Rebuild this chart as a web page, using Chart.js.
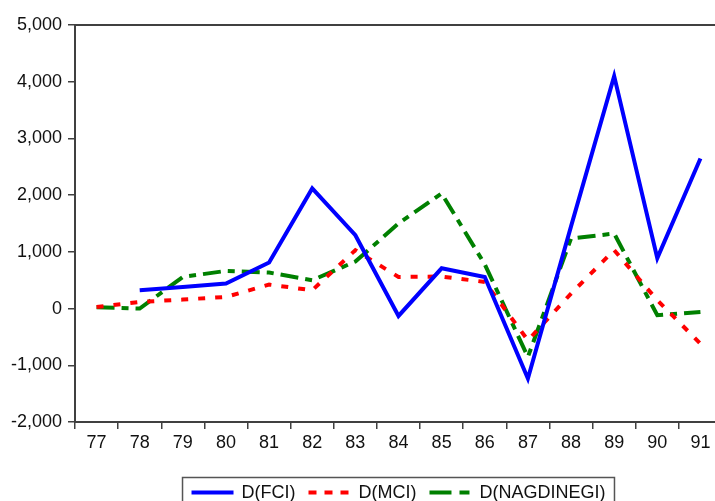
<!DOCTYPE html>
<html>
<head>
<meta charset="utf-8">
<script src="https://cdn.jsdelivr.net/npm/chart.js@4.4.1/dist/chart.umd.min.js"></script>
<style>
html, body { margin: 0; padding: 0; background: #fff; overflow: hidden; }
#wrap { width: 730px; height: 501px; }
</style>
</head>
<body>
<div id="wrap"><canvas id="lineChart"></canvas></div>
<script>
var years = ["77", "78", "79", "80", "81", "82", "83", "84", "85", "86", "87", "88", "89", "90", "91"];
var dFCI = [null, 323, 380, 441, 812, 2118, 1293, -130, 710, 558, -1235, 1450, 4099, 890, 2647];
var dMCI = [28, 117, 159, 205, 423, 323, 1030, 558, 565, 470, -560, 265, 1030, 147, -618];
var dNAGDINEGI = [25, 0, 558, 664, 635, 500, 830, 1500, 2029, 780, -853, 1235, 1323, -118, -59];
var yTicks = [-2000, -1000, 0, 1000, 2000, 3000, 4000, 5000];

var FONT = '"Liberation Sans", Arial, sans-serif';

// top frame line of the plot box
var frameTop = {
  id: 'frameTop',
  afterDraw: function(chart) {
    var c = chart.ctx, a = chart.chartArea;
    c.save();
    c.strokeStyle = '#404040';
    c.lineWidth = 2;
    c.beginPath();
    c.moveTo(a.left, a.top);
    c.lineTo(a.right, a.top);
    c.stroke();
    c.restore();
  }
};

// boxed legend under the axis
var boxLegend = {
  id: 'boxLegend',
  afterDraw: function(chart) {
    var c = chart.ctx, a = chart.chartArea;
    var sets = chart.data.datasets;
    c.save();
    c.font = '18px ' + FONT;
    var sample = 42, gapText = 8, gapItem = 13, pad = 9;
    var total = pad * 2;
    sets.forEach(function(ds, i) {
      total += sample + gapText + c.measureText(ds.label).width;
      if (i < sets.length - 1) total += gapItem;
    });
    var left = (a.left + a.right) / 2 - total / 2;
    var top = 477.5, yMid = 492.5;
    c.strokeStyle = '#555';
    c.lineWidth = 1.5;
    c.strokeRect(left, top, total, 40);
    var x = left + pad;
    sets.forEach(function(ds) {
      c.strokeStyle = ds.borderColor;
      c.lineWidth = 4;
      c.setLineDash(ds.legendDash || []);
      c.beginPath();
      c.moveTo(x, yMid);
      c.lineTo(x + sample, yMid);
      c.stroke();
      c.setLineDash([]);
      x += sample + gapText;
      c.fillStyle = '#111';
      c.textBaseline = 'middle';
      c.fillText(ds.label, x, yMid + 1);
      x += c.measureText(ds.label).width + gapItem;
    });
    c.restore();
  }
};

var ctx = document.getElementById("lineChart").getContext('2d');
var myLineChart = new Chart(ctx, {
  type: 'line',
  data: {
    labels: years,
    datasets: [{
      label: "D(FCI)",
      data: dFCI,
      borderColor: "#0000FF",
      borderWidth: 4,
      legendDash: []
    }, {
      label: "D(MCI)",
      data: dMCI,
      borderColor: "#FF0000",
      borderWidth: 4,
      borderDash: [7, 10],
      legendDash: [8, 8]
    }, {
      label: "D(NAGDINEGI)",
      data: dNAGDINEGI,
      borderColor: "#008000",
      borderWidth: 4,
      borderDash: [18, 7, 7, 7],
      legendDash: [22, 8, 10, 8]
    }]
  },
  options: {
    responsive: true,
    maintainAspectRatio: false,
    animation: false,
    spanGaps: false,
    elements: { point: { radius: 0 }, line: { tension: 0 } },
    layout: { padding: { left: 0, right: 8, top: 25, bottom: 39 } },
    plugins: { legend: { display: false }, tooltip: { enabled: false } },
    scales: {
      x: {
        type: 'category',
        offset: true,
        grid: { offset: true, drawOnChartArea: false, drawTicks: true, tickLength: 7, color: '#404040', lineWidth: 1.5 },
        border: { display: true, color: '#404040', width: 2 },
        ticks: { color: '#111', font: { family: FONT, size: 18 }, padding: 3, maxRotation: 0, autoSkip: false },
        afterFit: function(scale) { scale.height = 40; }
      },
      y: {
        min: -2000,
        max: 5000,
        afterBuildTicks: function(scale) {
          scale.ticks = yTicks.map(function(v) { return { value: v }; });
        },
        grid: { drawOnChartArea: false, drawTicks: true, tickLength: 7, color: '#404040', lineWidth: 1.5 },
        border: { display: true, color: '#404040', width: 2 },
        ticks: {
          color: '#111',
          font: { family: FONT, size: 18 },
          padding: 6,
          callback: function(v) { return v.toLocaleString('en-US'); }
        },
        afterFit: function(scale) { scale.width = 75; }
      }
    }
  },
  plugins: [frameTop, boxLegend]
});
</script>
</body>
</html>
